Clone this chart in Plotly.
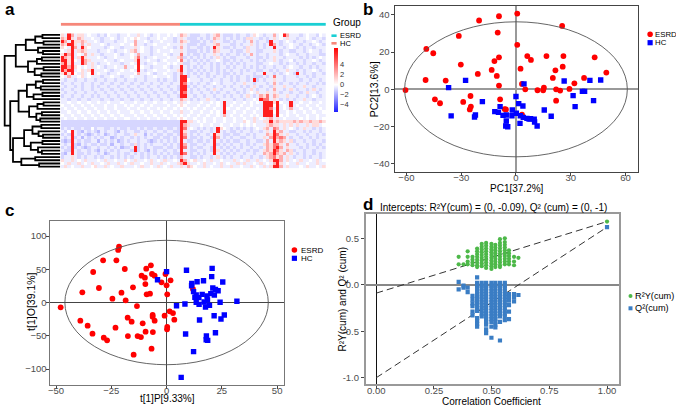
import plotly.graph_objects as go

W, H = 676, 407
FONT = "Liberation Sans, Arial, sans-serif"


def px(x):
    return x / W


def py(y):
    return 1 - y / H


# ------------------------------------------------------------------ panel a
# heatmap rows (42 metabolites x 80 samples), one character per cell
heat_codes = {'B': -1.7, 'b': -1.0, '.': -0.45, 'w': 0.0,
              'p': 1.0, 'q': 2.4, 'r': 4.0, 'R': 6.5}
heat_rows = [
    "p.Rq.pp.w.|.b.bw..b..|w..p.w.b.w|..w.w.qp.b|bb..b.pq.b|bb.b..b.pw|.b..q.wRq.|..b.w..bw.",
    "qpRp.qp..w|..b..w.b.w|.wpw..b..w|.w..b.p.bb|b.b.b.qp.b|.b.b.bpp..|b.b.p.w.p.|.b..w.b..b",
    "Rq.Rppqp..|w.b...b..w|..q..w.b..|w...b.qp.b|bb.b.bp..b|b.b..b.q.b|..bR..b.w.|b..b..w.b.",
    "qpRRp.q.p.|..w.b...w.|.wq..b..w.|..w...p.bb|b.bb..pq..|.bb.b..p.b|.b.Rq.b..w|..b..b.w.b",
    "pw.Rq.Rpw.|...b.w..b.|..p.w..b..|.w..b.q.b.|.bb.b.Rp.b|b.b..bp..b|.b..R..b.w|.b.b..b...",
    "w.pR.pqp..|.b..w.b..w|.pq.w..b.w|...w..p.bb|b.b.b.qp..|.b.bb.p..b|b...p.b..b|b..b.w..b.",
    "pRqR.w.q.p|..b...w.b.|.w.q...b..|.w.b..r.b.|bb.b..p.b.|b..b.b.q.b|..b...b.w.|.b..b...bb",
    "RqpR.pRp..|.w.b..w...|.wpr.b..w.|..w..pqb.b|.b.b.b.p.b|.bb...b..b|b.b.p..b..|..b.b.b.w.",
    "RRpRw.Rqp.|...w..b.w.|..pR..w..b|.w...wr.b.|b.b.b..w.b|b.b.b..b.b|.b..p.b..w|b..b..w.b.",
    "qRpR..Rq.p|.b..w...b.|.w.R.b..w.|..w.w.pbb.|.b.b.b.b.b|.b.b.b...b|b..w..b.b.|.b.b..b..b",
    "RRqRpw.w.p|.w.b..w..q|..wRw..b..|.w.b..R.b.|b.b..b.b..|b.b..b.b.b|.b..b..b.w|..b..b.b..",
    "RqRR.wp.pR|...w.b..w.|.w.R.b..w.|..w..pR.bb|.b.b.b.b.b|.b..b.b..b|b..b.b..p.|.b.b..w.b.",
    "pRpRw.p.wR|.w..b..w..|..wq..w.b.|.w..b.r.b.|b.b.b..b.b|b.b.b...b.|.R..b.b.w.|bR.b..b..b",
    "w.q..wp.w.|..b..w..b.|.w...b..w.|..w.b.RRb.|.b..b.b..b|.b.b..b.bb|b.b.r..b..|.b..b.b...",
    ".b..b..b..|b..b..b..b|..b..b...b|.b..b.RRw.|..b..b..b.|.b.b..b.Rb|.b..p..b..|..b..b..b.",
    "b..b..b..b|..b..b..b.|.b..b..b..|b..b..Rr.b|.b..b.w.b.|..b..p..b.|..b.q.b..b|.b..b..b.b",
    ".b..b.b..b|.b..b..b..|b..b..b..b|..b..bRRb.|b..b..b..b|.b..b.b.p.|b..bp..p..|b..p..b...",
    "b..b..b..b|..b..b..b.|.b..b..b..|b..b.bRR.b|.b..b.p.b.|..b..b.p.b|..b.q..b.p|.b..b.p.b.",
    ".b..b..b..|b..b..b..b|..b..b..b.|.b..b.Rr.b|..b..b.b..|b..b.b.w.p|..p.p.b..b|..b.p..b..",
    "b..b..b..b|.b..b..b..|b..b..b..b|..b..bRR..|b..b..b..b|.b..b.p.b.|qpr.qp..p.|.b..b.w.b.",
    "..b..b..b.|..b..b..b.|.b..b..b..|b..b..qp.b|.b..p..b..|..b..b..w.|Rrr.p.b.b.|b..p..b...",
    "..w..w..w.|.w..w...w.|..w..w..w.|.w..w.p.w.|..w..w.w.R|..w..w.w.w|.RRRpRw..R|..w..w..w.",
    "w..w..w..w|...w..w..w|.w..w..w..|..w..wpw..|.w..w..w.R|.w..w..w..|.RRRwR.w.R|.w..w..w..",
    ".w..w..w..|w..w..w...|w..w..w..w|.w..w.w.w.|w..w..w..R|w..w..w..w|.RRr.R.w.q|..w..w..w.",
    "..w..w..w.|.w..w..w..|.w..w..w..|w..w..p..w|..w..w.w.R|..w..w..w.|.RRRwR..w.|w..w..w..w",
    "w..w..w..w|..w..w..w.|..w..w..w.|.w..w.w.w.|.w..w..w.q|.w..w..w.w|.RRR.Rw.w.|.w..w..w..",
    ".w..w..w..|w..w..w..w|w..w..w..w|..w..wpw..|w..w..w..w|..w..w..p.|w.pq.p.w..|..w.w..w.w",
    "bbbbbbbbbb|bbbbbbbbbb|bbbbbbbbbb|bbbbbbRRpp|.w.w..w..w|..w..pw.p.|.ppRpqpppp|qpqppqppqp",
    "bbbbbbbbbb|bbbbbbbbbb|bbbbbbbbbb|bbbbbbRqp.|..w..w..w.|.w..w.w.w.|..pqpp.p.p|.p..p.pp.w",
    "b.b.bb.bbw|b..bb.b.bb|.bb.b.bb.b|b.bb.bRr.w|.b.b.b.Rpw|.b.b.b.b.w|.pq.rq.p.w|.b.p..b.b.",
    ".bwR.bB.b.|bB.b..bB.b|..bb.b..b.|.b..bbRp.b|b.b..b.R.b|.bb.b..b..|b.p.Rpq..b|b..b.b..b.",
    "b.bR.b.bBb|.b.Bb.b..b|b.p..B.b.b|b.bb.bRq.b|.b..b.Rp.b|b.bb..b.b.|..qpRrp.p.|.b..b..b.b",
    ".b.Rb.B.b.|b.b..Bb.b.|.b.b.b..bb|.bb.b.Rr.b|b.b..bRq.b|.b..bb..b.|.p.qRqrq.b|..b..b.b..",
    "bBbR.b.bb.|.B.b.b.Bb.|b..b..bBb.|b.b.b.R.bb|.bb.b.R.b.|b.bb..b..b|b.q.Rpqp.p|b..b..b..b",
    ".b.RbB.b.b|b.bb.B..b.|.bpb.b.b..|.b.b.bRq.b|b..b..Rb.b|.b..b.b.b.|.pqprrp.q.|.b..b.b.b.",
    "b.bRb.bBb.|.b..b.b.Bb|b.Rb.b..bb|b.bb.bRr.b|.bb..bR.b.|b.b.b..b..|b.qprRq.p.|..b.b..b.b",
    ".bbR.b..b.|bB.b.b.b..|.bRb.bB.b.|.b..b.R..b|b..b.bRp.b|.b.b..b.bb|.pqpRrp.qp|b..b..b...",
    "bB.R.bb.b.|.b.Bb..b.b|b.b.b.b.b.|b.b.bbRr.b|.b.b..R.b.|b.b..b..b.|.qpqRqpq.p|.b.b..b.b.",
    "b..p.b.b..|b.b..b.b.b|.b..b.b..b|.b.b.bq..b|b.b..b.p.b|.b..b..b..|b.pqrpq.p.|b..b.b..b.",
    "p..p.w.p..|.w.p..w..p|w.p..w.p.w|.p..w.Rq.w|p..w.p..w.|..p.w.p..p|.w.pRRq.p.|w.p..w.p.w",
    "w.p..p.w.p|..w.p..p.w|.p..w..p..|p.w..pqRp.|.w.p..w.p.|w..p.p..w.|p.w.qRp.w.|.p..w..p..",
    ".p.w..p..w|p..p.w..p.|..w.p..w.p|.w.p..p.qp|w..p.w..p.|.p..w..p.w|.p.pRRq.p.|..w.p..w.p",
]
group_names = ["HC", "ESRD"]
group_sizes = [36, 44]
group_colors = {"HC": "#F6877A", "ESRD": "#1ACFD4"}
colorbar_ticks = [4, 2, 0, -2, -4]

# row dendrogram: [height, left, right]; leaves are row indices
dendro_tree = [10.0,
               [8.0,
                [6.2, [4.5, [3.2, 0, 1], [3.0, 2, 3]], [4.0, 4, [3.1, 5, 6]]],
                [5.8, [4.2, [3.3, 7, 8], 9], [4.6, [3.0, 10, 11], [3.4, 12, 13]]]],
               [9.0,
                [7.5,
                 [6.0, [4.4, [3.1, 14, 15], [3.5, 16, 17]], [4.8, [3.2, 18, 19], 20]],
                 [5.6, [4.1, [3.0, 21, 22], 23], [4.3, [3.3, 24, 25], [3.6, 26, 27]]]],
                [8.5,
                 [6.5, [5.0, [3.4, 28, 29], [3.9, 30, [3.1, 31, 32]]],
                  [5.3, [3.2, 33, 34], [4.0, 35, [3.3, 36, 37]]]],
                 [7.0, [4.5, 38, 39], [3.8, 40, 41]]]]]

# ------------------------------------------------------------------ panel b (PCA)
pca_esrd_x = [0.7, -9.3, -20.2, 25.3, -31.3, -10.0, -49.1, -45.3, 0.7, 6.2, 8.2, 16.7, 26.0,
              43.1, -9.3, -11.8, -30.2, 2.5, -13.3, -20.9, 21.6, 25.6, 49.5, -10.5, -49.5,
              -38.5, 20.2, 37.3, 32.0, 3.3, -9.3, 5.1, 11.8, 15.3, 14.9, 22.0, 24.2, 29.3,
              -60.5, -44.4, -41.6, -28.9, -24.9, -8.7, 22.0, -24.7, -25.3, -6.2, -5.5, 3.3]
pca_esrd_y = [40.7, 39.3, 37.0, 34.1, 28.7, 30.5, 21.7, 19.4, 23.9, 17.9, 15.8, 17.9, 17.9,
              17.2, 17.2, 15.2, 13.3, 11.1, 10.4, 8.3, 10.2, 12.2, 9.0, 7.2, 5.0,
              4.7, 6.1, 6.1, 3.2, 2.9, 2.0, 0.0, -0.5, 0.9, -0.5, 0.0, -0.7, 0.2,
              -0.4, -5.4, -7.5, -6.8, -3.6, -5.4, -6.1, -9.3, -10.8, -10.6, -10.8, -13.6]
pca_hc_x = [4.4, -27.6, 26.4, 40.5, 46.4, -36.9, 36.4, 37.6, 31.3, 42.5, 32.4, 0.0, -18.4,
            1.5, 3.8, -8.7, -35.5, -22.2, -22.7, -11.6, -9.6, -7.1, -5.3, -2.0, 0.2, 2.4,
            4.0, 6.0, 8.0, 10.0, 10.2, 15.5, 19.3, 11.6, 2.2, -5.3, -5.6, -4.5, -2.2, 7.2]
pca_hc_y = [2.9, 4.8, 4.5, 4.8, 5.0, 0.9, -1.1, -1.1, -3.4, -6.1, -9.3, -3.9, -6.6,
            -7.7, -9.0, -9.3, -14.3, -13.8, -14.9, -12.0, -12.4, -14.0, -13.8, -11.1, -12.9, -14.2,
            -15.1, -15.6, -15.8, -16.1, -17.6, -11.1, -14.5, -19.7, -18.3, -17.0, -19.7, -20.1, -14.2, -16.0]
pca_ellipse = (61.0, 36.3)

# ------------------------------------------------------------------ panel c (OPLS-DA)
opls_esrd_x = [-47.9, -21.5, -21.9, -28.7, -22.7, -33.2, -18.9, -7.1, -9.2, -11.3, -9.8, -6.6,
               -5.4, -0.5, -2.3, 1.8, -38.1, -30.6, -20.4, -15.2, -9.6, -9.0, -7.5, 0.0, 0.3,
               -24.5, -18.5, -13.4, -39.0, -35.7, -33.5, -28.4, -26.9, -23.1, -17.6, -15.8,
               -17.5, -13.1, -11.6, -10.8, -9.5, -6.2, -6.3, -6.3, -5.4, -14.9, -6.8, -0.9,
               1.4, 2.9, 3.5, 0.3, 0.2, 11.9]
opls_esrd_y = [-7.3, 84.0, 79.0, 63.4, 63.4, 45.9, 50.4, 55.9, 50.9, 40.4, 37.3, 42.9,
               40.4, 42.9, 30.3, 33.3, 15.3, 21.8, 14.8, 22.8, 27.8, 12.3, 13.3, 25.8, 12.3,
               5.8, 3.3, -5.3, -27.3, -34.8, -46.9, -52.9, -56.9, -37.8, -22.8, -28.8,
               -50.4, -50.4, -51.9, -31.3, -43.9, -44.4, -18.8, -21.3, -27.3, -78.4, -69.4, -19.8,
               -13.3, -15.8, -25.8, -36.8, -40.3, 20.3]
opls_hc_x = [0.0, -4.1, 9.0, 20.6, 20.4, 11.4, 11.3, 13.8, 16.7, 25.4, 12.2, 13.4, 14.6, 16.1,
             18.3, 20.0, 20.9, 22.1, 23.3, 21.6, 18.5, 17.0, 19.4, 17.6, 14.7, 13.4, 12.8,
             24.2, 31.8, 8.3, 4.5, 14.9, 21.5, 26.1, 24.6, 8.6, 18.0, 18.6, 17.9, 22.1, 12.2, 6.6]
opls_hc_y = [46.4, 34.3, 48.4, 51.4, 38.9, 28.8, 25.3, 31.3, 32.8, 30.8, 16.3, 11.3, 7.3, 12.3,
             9.8, 13.3, 21.8, 19.8, 17.8, 11.3, 3.8, 0.8, -4.3, -6.8, -2.8, 0.3, 8.0,
             0.3, 1.8, -2.3, -4.8, -26.3, -19.8, -18.8, -24.8, -47.4, -50.4, -56.9, -55.9, -45.4, -73.9, -112.5]
opls_ellipse = (46.0, 93.5)

# ------------------------------------------------------------------ panel d (permutation test)
r2y_columns = {
    0.357: [0.30, 0.22],
    0.378: [0.22],
    0.396: [0.36, 0.30, 0.25, 0.22],
    0.417: [0.30, 0.27, 0.24, 0.21],
    0.437: [0.39, 0.36, 0.33, 0.30, 0.27, 0.24, 0.21, 0.19],
    0.457: [0.44, 0.41, 0.38, 0.35, 0.32, 0.29, 0.26, 0.23, 0.20],
    0.476: [0.45, 0.42, 0.39, 0.36, 0.33, 0.30, 0.27, 0.24, 0.21, 0.18],
    0.499: [0.44, 0.41, 0.38, 0.35, 0.32, 0.29, 0.26, 0.23, 0.20, 0.17],
    0.516: [0.43, 0.40, 0.37, 0.34, 0.31, 0.28, 0.25, 0.22, 0.19],
    0.536: [0.49, 0.45, 0.42, 0.39, 0.36, 0.33, 0.30, 0.27, 0.24, 0.21, 0.19],
    0.557: [0.50, 0.46, 0.43, 0.40, 0.37, 0.34, 0.31, 0.28, 0.25, 0.22],
    0.575: [0.37, 0.34, 0.31, 0.28, 0.25, 0.22],
    0.597: [0.30, 0.25, 0.21],
    0.616: [0.29],
}
q2_columns = {
    0.357: [0.03, -0.05],
    0.378: [-0.01, -0.03],
    0.396: [-0.03, -0.08],
    0.417: [-0.12, -0.16, -0.20, -0.23, -0.29, -0.33],
    0.437: [0.08, 0.02, -0.01, -0.04, -0.08, -0.12, -0.15, -0.18, -0.21, -0.25, -0.28,
            -0.36, -0.39, -0.42, -0.45],
    0.457: [0.02, -0.01, -0.04, -0.07, -0.10, -0.13, -0.16, -0.19, -0.22, -0.25, -0.28,
            -0.31, -0.34],
    0.476: [0.02, -0.01, -0.04, -0.07, -0.10, -0.13, -0.16, -0.19, -0.22, -0.25, -0.28,
            -0.31, -0.34, -0.37, -0.40, -0.43, -0.48, -0.52],
    0.499: [0.02, -0.01, -0.04, -0.07, -0.10, -0.13, -0.16, -0.19, -0.22, -0.25, -0.28,
            -0.31, -0.34, -0.37, -0.40, -0.45, -0.57],
    0.516: [0.02, -0.01, -0.04, -0.07, -0.10, -0.13, -0.16, -0.19, -0.22, -0.25, -0.28,
            -0.31, -0.34, -0.37, -0.40, -0.43, -0.46],
    0.536: [0.02, -0.01, -0.04, -0.07, -0.10, -0.13, -0.16, -0.19, -0.22, -0.25, -0.28,
            -0.31, -0.34, -0.40, -0.60],
    0.557: [0.02, -0.01, -0.04, -0.07, -0.10, -0.13, -0.16, -0.19, -0.22, -0.25, -0.28,
            -0.31, -0.34, -0.38],
    0.575: [-0.10, -0.13, -0.17, -0.22, -0.29, -0.37],
    0.597: [-0.10, -0.14, -0.18],
    0.616: [-0.11],
}
original_model = {"R2Y": (1.0, 0.68), "Q2": (1.0, 0.62)}
intercepts = {"R2Y": -0.09, "Q2": -1.0}

# ================================================================== build
fig = go.Figure()

# heatmap
Z = []
for row in heat_rows:
    cells = row.replace("|", "")
    Z.append([heat_codes[c] for c in cells])
ncol = len(Z[0])
nrow = len(Z)
fig.add_trace(go.Heatmap(
    z=Z, x=list(range(ncol)), y=list(range(nrow)), xaxis="x", yaxis="y",
    zmin=-5.5, zmax=7.4,
    colorscale=[[0, "rgb(30,30,255)"], [0.426, "rgb(255,255,255)"], [1, "rgb(255,0,0)"]],
    colorbar=dict(x=px(332), xanchor="left", y=py(79.5), yanchor="middle",
                  len=64.4 / H, lenmode="fraction", thickness=4, thicknessmode="pixels",
                  outlinewidth=0, tickvals=colorbar_ticks, ticks="", tickangle=0,
                  xpad=0, ypad=0,
                  tickfont=dict(size=7.5, color="#333", family=FONT)),
    hoverinfo="skip"))

# group annotation bar
grp_z = []
for gi, (g, n) in enumerate(zip(group_names, group_sizes)):
    grp_z += [gi] * n
fig.add_trace(go.Heatmap(
    z=[grp_z], x=list(range(len(grp_z))), y=[0], xaxis="x6", yaxis="y6",
    zmin=0, zmax=1, showscale=False,
    colorscale=[[0, group_colors[group_names[0]]], [0.5, group_colors[group_names[0]]],
                [0.5, group_colors[group_names[1]]], [1, group_colors[group_names[1]]]],
    hoverinfo="skip"))

# dendrogram
dx, dy = [], []


def walk(node):
    if isinstance(node, int):
        return float(node), 0.0
    h, left, right = node
    yl, hl = walk(left)
    yr, hr = walk(right)
    dx.extend([hl, h, h, hr, None])
    dy.extend([yl, yl, yr, yr, None])
    return (yl + yr) / 2, h


walk(dendro_tree)
fig.add_trace(go.Scatter(x=dx, y=dy, mode="lines", xaxis="x2", yaxis="y2",
                         line=dict(color="black", width=1.8), hoverinfo="skip", showlegend=False))

# panel b
fig.add_trace(go.Scatter(x=pca_esrd_x, y=pca_esrd_y, mode="markers", xaxis="x3", yaxis="y3",
                         marker=dict(color="#FF0000", size=5.8, symbol="circle"), showlegend=False))
fig.add_trace(go.Scatter(x=pca_hc_x, y=pca_hc_y, mode="markers", xaxis="x3", yaxis="y3",
                         marker=dict(color="#0000FF", size=5.4, symbol="square"), showlegend=False))
# panel c
fig.add_trace(go.Scatter(x=opls_esrd_x, y=opls_esrd_y, mode="markers", xaxis="x4", yaxis="y4",
                         marker=dict(color="#FF0000", size=5.8, symbol="circle"), showlegend=False))
fig.add_trace(go.Scatter(x=opls_hc_x, y=opls_hc_y, mode="markers", xaxis="x4", yaxis="y4",
                         marker=dict(color="#0000FF", size=5.4, symbol="square"), showlegend=False))

# panel d
for key, (xo, yo) in original_model.items():
    fig.add_trace(go.Scatter(x=[0, xo], y=[intercepts[key], yo], mode="lines",
                             xaxis="x5", yaxis="y5",
                             line=dict(color="#333", width=1, dash="7px,4px"),
                             showlegend=False, hoverinfo="skip"))
r2x, r2yv, q2x, q2yv = [], [], [], []
for xv, ys in r2y_columns.items():
    r2x += [xv] * len(ys)
    r2yv += ys
for xv, ys in q2_columns.items():
    q2x += [xv] * len(ys)
    q2yv += ys
r2x.append(original_model["R2Y"][0]); r2yv.append(original_model["R2Y"][1])
q2x.append(original_model["Q2"][0]); q2yv.append(original_model["Q2"][1])
fig.add_trace(go.Scatter(x=r2x, y=r2yv, mode="markers", xaxis="x5", yaxis="y5",
                         marker=dict(color="#4DB849", size=4.2, symbol="circle"), showlegend=False))
fig.add_trace(go.Scatter(x=q2x, y=q2yv, mode="markers", xaxis="x5", yaxis="y5",
                         marker=dict(color="#3A7DC4", size=4.2, symbol="square"), showlegend=False))

# ------------------------------------------------------------------ axes
hidden = dict(visible=False, showgrid=False, zeroline=False)
tickfont = dict(size=9.5, color="#4d4d4d", family=FONT)


def framed(rng, tickvals, ticktext=None, linecolor="#444", lw=1, zl_color="#999", zl_w=1.5,
           standoff=0):
    d = dict(range=rng, tickvals=tickvals, showgrid=False, showline=True, mirror=True,
             linecolor=linecolor, linewidth=lw, ticks="outside", ticklen=3, tickcolor="#444",
             tickwidth=1, tickfont=tickfont, zeroline=True, zerolinecolor=zl_color,
             zerolinewidth=zl_w, ticklabelstandoff=standoff)
    if ticktext is not None:
        d["ticktext"] = ticktext
    return d


heat_dom_y = [py(168.3), py(33.3)]
fig.update_layout(
    xaxis=dict(domain=[px(58), px(324.5)], range=[-0.5, ncol - 0.5], anchor="y", **hidden),
    yaxis=dict(domain=heat_dom_y, range=[nrow - 0.5, -0.5], anchor="x", **hidden),
    xaxis2=dict(domain=[0, px(57.5)], range=[10.3, 0], anchor="y2", **hidden),
    yaxis2=dict(domain=heat_dom_y, range=[nrow - 0.5, -0.5], anchor="x2", **hidden),
    xaxis6=dict(domain=[px(58), px(324.5)], range=[-0.5, ncol - 0.5], anchor="y6", **hidden),
    yaxis6=dict(domain=[py(26), py(22.7)], range=[-0.5, 0.5], anchor="x6", **hidden),
    xaxis3=dict(domain=[px(393.3), px(638.3)], anchor="y3",
                **framed([-66.5, 67.1], [-60, -30, 0, 30, 60], standoff=-6)),
    yaxis3=dict(domain=[py(171.7), py(6)], anchor="x3",
                **framed([-44.3, 44.8], [-40, -20, 0, 20, 40], standoff=-1)),
    xaxis4=dict(domain=[px(47.7), px(282.7)], anchor="y4",
                **framed([-52.5, 53.3], [-50, -25, 0, 25, 50], linecolor="#777",
                         zl_color="#444", zl_w=1, standoff=-6)),
    yaxis4=dict(domain=[py(385), py(220.7)], anchor="x4",
                **framed([-124, 123], [-100, -50, 0, 50, 100], linecolor="#777",
                         zl_color="#444", zl_w=1, standoff=-2)),
    xaxis5=dict(domain=[px(364.3), px(618.3)], anchor="y5",
                **framed([-0.046, 1.05], [0, 0.25, 0.5, 0.75, 1.0],
                         ["0.00", "0.25", "0.50", "0.75", "1.00"], linecolor="#999", lw=1.5,
                         zl_color="#111", zl_w=1, standoff=-6)),
    yaxis5=dict(domain=[py(384.3), py(214.3)], anchor="x5",
                **framed([-1.071, 0.758], [-1.0, -0.5, 0.0, 0.5],
                         ["-1.0", "-0.5", "0.0", "0.5"], linecolor="#999", lw=1.5,
                         zl_color="#888", zl_w=1.5, standoff=0)),
)

# ------------------------------------------------------------------ shapes
shapes = []
for (xr, yr, (a, b)) in [("x3", "y3", pca_ellipse), ("x4", "y4", opls_ellipse)]:
    shapes.append(dict(type="circle", xref=xr, yref=yr, x0=-a, x1=a, y0=-b, y1=b,
                       line=dict(color="#555", width=0.9), layer="above"))


def key_circle(cx, cy, r, color):
    return dict(type="circle", xref="paper", yref="paper", x0=px(cx - r), x1=px(cx + r),
                y0=py(cy + r), y1=py(cy - r), fillcolor=color, line=dict(width=0))


def key_rect(cx, cy, hw, hh, color):
    return dict(type="rect", xref="paper", yref="paper", x0=px(cx - hw), x1=px(cx + hw),
                y0=py(cy + hh), y1=py(cy - hh), fillcolor=color, line=dict(width=0))


# group legend keys (panel a)
shapes.append(key_rect(332.5, 35.7, 2.6, 1.3, group_colors["ESRD"]))
shapes.append(key_rect(332.5, 43.3, 2.6, 1.3, group_colors["HC"]))
# panel b legend keys
shapes.append(key_circle(650, 34.3, 2.8, "#FF0000"))
shapes.append(key_rect(650, 42.7, 2.6, 2.6, "#0000FF"))
# panel c legend keys
shapes.append(key_circle(292.7, 250, 2.8, "#FF0000"))
shapes.append(key_rect(292.7, 258.3, 2.6, 2.6, "#0000FF"))
# panel d legend keys
shapes.append(key_circle(630.3, 296, 2.0, "#4DB849"))
shapes.append(key_rect(630.3, 308.3, 2.0, 2.0, "#3A7DC4"))
fig.update_layout(shapes=shapes)

# ------------------------------------------------------------------ annotations
ann = []


def text(x, y, s, size=10, color="black", xanchor="left", angle=0, bold=False):
    ann.append(dict(x=px(x), y=py(y), xref="paper", yref="paper", text=f"<b>{s}</b>" if bold else s,
                    showarrow=False, xanchor=xanchor, yanchor="middle", textangle=angle,
                    font=dict(size=size, color=color, family=FONT), borderpad=0))


text(1, 9, "a", 17, bold=True)
text(361, 9, "b", 17, bold=True)
text(1, 210, "c", 17, bold=True)
text(361, 204, "d", 17, bold=True)

text(330, 23, "Group", 10)
text(337, 35.7, "ESRD", 7.5)
text(337, 43.3, "HC", 7.5)

text(654, 34.3, "ESRD", 7.8)
text(654, 42.7, "HC", 7.8)
text(515.8, 188.5, "PC1[37.2%]", 10, xanchor="center")
text(373, 89, "PC2[13.6%]", 10.5, xanchor="center", angle=-90)

text(298, 250, "ESRD", 8)
text(298, 258.5, "HC", 8)
text(165, 398.5, "t[1]P[9.33%]", 10, xanchor="center")
text(28, 302, "t[1]O[39.1%]", 10.5, xanchor="center", angle=-90)

text(493, 207, "Intercepts: R²Y(cum) = (0, -0.09), Q² (cum) = (0, -1)", 10, xanchor="center")
text(491, 401, "Correlation Coefficient", 10, xanchor="center")
text(341, 299, "R²Y(cum) and Q² (cum)", 10, xanchor="center", angle=-90)
text(634, 296, "R²Y(cum)", 9.2)
text(634, 308.3, "Q²(cum)", 9.2)
fig.update_layout(annotations=ann)

fig.update_layout(width=W, height=H, margin=dict(l=0, r=0, t=0, b=0),
                  paper_bgcolor="white", plot_bgcolor="white", showlegend=False,
                  font=dict(family=FONT))
fig.write_html("out.html", config={"displayModeBar": False},
               post_script="document.body.style.margin='0';document.body.style.padding='0';"
                           "document.body.style.overflow='hidden';")
